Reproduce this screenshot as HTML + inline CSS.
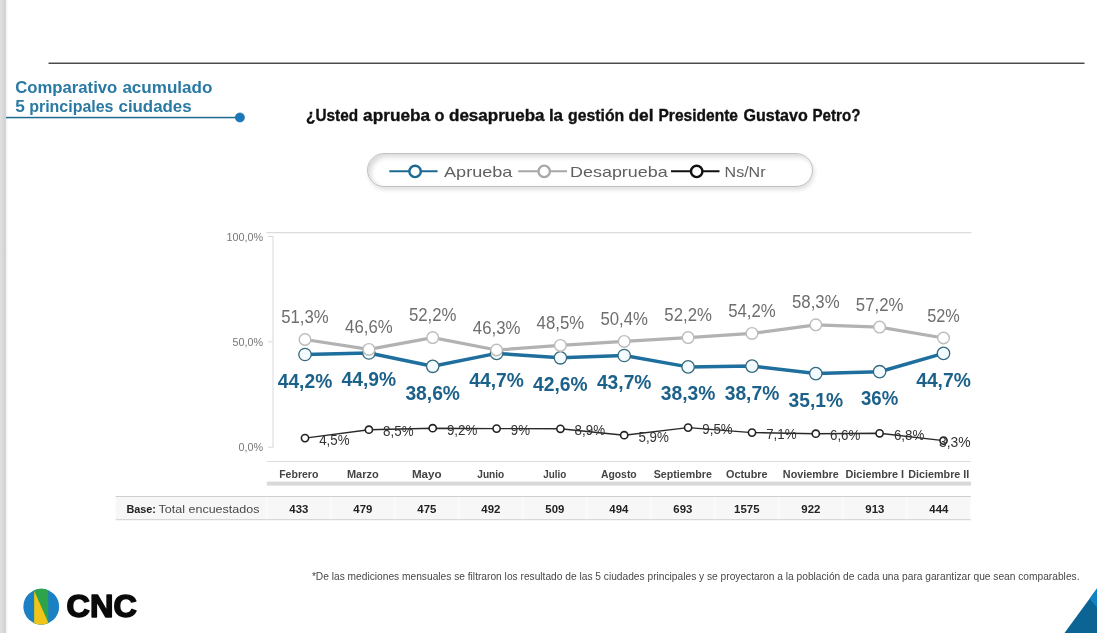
<!DOCTYPE html>
<html lang="es"><head><meta charset="utf-8"><title>Comparativo acumulado 5 principales ciudades</title>
<style>
html,body{margin:0;padding:0;background:#fff;}
body{width:1097px;height:633px;overflow:hidden;position:relative;font-family:"Liberation Sans",sans-serif;}
svg{position:absolute;left:0;top:0;display:block}
text{font-family:"Liberation Sans",sans-serif}
#pill{position:absolute;left:367.4px;top:152.6px;width:446.1px;height:34.3px;box-sizing:border-box;border:1px solid #c2c2c2;border-radius:17.2px;background:#fff;box-shadow:inset 3px 3px 5px rgba(0,0,0,0.15), 1.5px 3px 4px rgba(0,0,0,0.12);}
</style></head><body>
<div id="pill"></div>
<svg width="1097" height="633" viewBox="0 0 1097 633">
<defs>
<linearGradient id="strip" x1="0" x2="1" y1="0" y2="0"><stop offset="0" stop-color="#e1e1e1"/><stop offset="0.6" stop-color="#d6d6d6"/><stop offset="1" stop-color="#cdcdcd"/></linearGradient>
<linearGradient id="strip2" x1="0" x2="1" y1="0" y2="0"><stop offset="0" stop-color="#ececec"/><stop offset="0.5" stop-color="#f7f7f7"/><stop offset="1" stop-color="#ffffff"/></linearGradient>
<clipPath id="logoc"><circle cx="41.25" cy="606.7" r="17.9"/></clipPath>
</defs>
<rect x="0" y="0" width="5.9" height="633" fill="url(#strip)"/>
<rect x="5.9" y="0" width="2.4" height="633" fill="url(#strip2)"/>
<rect x="48.5" y="62.55" width="1036" height="1.4" fill="#404040"/>

<text x="15.2" y="92.9" font-size="16" font-weight="bold" fill="#2a79a3" textLength="102.1" lengthAdjust="spacingAndGlyphs">Comparativo</text>
<text x="122.4" y="92.9" font-size="16" font-weight="bold" fill="#2a79a3" textLength="90.0" lengthAdjust="spacingAndGlyphs">acumulado</text>
<text x="15.2" y="112" font-size="16" font-weight="bold" fill="#2a79a3" textLength="9.6" lengthAdjust="spacingAndGlyphs">5</text>
<text x="29.2" y="112" font-size="16" font-weight="bold" fill="#2a79a3" textLength="84.3" lengthAdjust="spacingAndGlyphs">principales</text>
<text x="118.5" y="112" font-size="16" font-weight="bold" fill="#2a79a3" textLength="73.1" lengthAdjust="spacingAndGlyphs">ciudades</text>
<rect x="6" y="116.8" width="233" height="1.5" fill="#206a90"/>
<circle cx="239.9" cy="117.5" r="4.6" fill="#1a78b9" stroke="#17699f" stroke-width="0.6"/>
<text x="306.1" y="120.8" font-size="16.2" font-weight="bold" fill="#111" stroke="#111" stroke-width="0.35" textLength="52.0" lengthAdjust="spacingAndGlyphs">¿Usted</text>
<text x="363.1" y="120.8" font-size="16.2" font-weight="bold" fill="#111" stroke="#111" stroke-width="0.35" textLength="67.0" lengthAdjust="spacingAndGlyphs">aprueba</text>
<text x="434.6" y="120.8" font-size="16.2" font-weight="bold" fill="#111" stroke="#111" stroke-width="0.35" textLength="9.9" lengthAdjust="spacingAndGlyphs">o</text>
<text x="449.0" y="120.8" font-size="16.2" font-weight="bold" fill="#111" stroke="#111" stroke-width="0.35" textLength="95.6" lengthAdjust="spacingAndGlyphs">desaprueba</text>
<text x="548.9" y="120.8" font-size="16.2" font-weight="bold" fill="#111" stroke="#111" stroke-width="0.35" textLength="14.2" lengthAdjust="spacingAndGlyphs">la</text>
<text x="568.1" y="120.8" font-size="16.2" font-weight="bold" fill="#111" stroke="#111" stroke-width="0.35" textLength="56.1" lengthAdjust="spacingAndGlyphs">gestión</text>
<text x="628.4" y="120.8" font-size="16.2" font-weight="bold" fill="#111" stroke="#111" stroke-width="0.35" textLength="25.1" lengthAdjust="spacingAndGlyphs">del</text>
<text x="658.5" y="120.8" font-size="16.2" font-weight="bold" fill="#111" stroke="#111" stroke-width="0.35" textLength="79.5" lengthAdjust="spacingAndGlyphs">Presidente</text>
<text x="743.5" y="120.8" font-size="16.2" font-weight="bold" fill="#111" stroke="#111" stroke-width="0.35" textLength="64.2" lengthAdjust="spacingAndGlyphs">Gustavo</text>
<text x="812.5" y="120.8" font-size="16.2" font-weight="bold" fill="#111" stroke="#111" stroke-width="0.35" textLength="47.9" lengthAdjust="spacingAndGlyphs">Petro?</text>
<line x1="389.3" x2="437.6" y1="171.3" y2="171.3" stroke="#1c6a94" stroke-width="2.1"/>
<circle cx="415.1" cy="171.4" r="5.7" fill="#fff" stroke="#1c6a94" stroke-width="2.4"/>
<line x1="518.2" x2="567" y1="171.3" y2="171.3" stroke="#a8a8a8" stroke-width="2.0"/>
<circle cx="544.2" cy="171.4" r="5.7" fill="#fff" stroke="#a8a8a8" stroke-width="2.3"/>
<line x1="671" x2="719.5" y1="171.3" y2="171.3" stroke="#111" stroke-width="2.1"/>
<circle cx="696.7" cy="171.4" r="5.7" fill="#fff" stroke="#111" stroke-width="2.4"/>
<text x="444.0" y="176.8" font-size="15" fill="#606060" textLength="68.4" lengthAdjust="spacingAndGlyphs">Aprueba</text>
<text x="570.1" y="176.8" font-size="15" fill="#606060" textLength="97.6" lengthAdjust="spacingAndGlyphs">Desaprueba</text>
<text x="724.6" y="176.8" font-size="15" fill="#606060" textLength="40.9" lengthAdjust="spacingAndGlyphs">Ns/Nr</text>
<rect x="266.4" y="232.2" width="705" height="1" fill="#d4d4d4"/>
<rect x="272.5" y="236.3" width="1" height="211.5" fill="#d9d9d9"/>
<rect x="268" y="236.0" width="5" height="1" fill="#d9d9d9"/>
<rect x="268" y="341.3" width="5" height="1" fill="#d9d9d9"/>
<rect x="268" y="446.7" width="5" height="1" fill="#d9d9d9"/>
<text x="263" y="240.5" font-size="10.4" fill="#777" text-anchor="end" textLength="36.6" lengthAdjust="spacingAndGlyphs">100,0%</text>
<text x="263" y="345.8" font-size="10.4" fill="#777" text-anchor="end" textLength="30.6" lengthAdjust="spacingAndGlyphs">50,0%</text>
<text x="263" y="451.2" font-size="10.4" fill="#777" text-anchor="end" textLength="24.6" lengthAdjust="spacingAndGlyphs">0,0%</text>
<polyline points="305.0,354.5 368.9,353.0 432.7,366.3 496.6,353.4 560.4,357.8 624.2,355.5 688.1,366.9 752.0,366.1 815.8,373.6 879.6,371.7 943.5,353.4" fill="none" stroke="#1f6f9e" stroke-width="3.5" stroke-linejoin="round"/>
<circle cx="305.0" cy="354.5" r="6.2" fill="#f3fbfe" stroke="#35697d" stroke-width="1.3"/>
<circle cx="368.9" cy="353.0" r="6.2" fill="#f3fbfe" stroke="#35697d" stroke-width="1.3"/>
<circle cx="432.7" cy="366.3" r="6.2" fill="#f3fbfe" stroke="#35697d" stroke-width="1.3"/>
<circle cx="496.6" cy="353.4" r="6.2" fill="#f3fbfe" stroke="#35697d" stroke-width="1.3"/>
<circle cx="560.4" cy="357.8" r="6.2" fill="#f3fbfe" stroke="#35697d" stroke-width="1.3"/>
<circle cx="624.2" cy="355.5" r="6.2" fill="#f3fbfe" stroke="#35697d" stroke-width="1.3"/>
<circle cx="688.1" cy="366.9" r="6.2" fill="#f3fbfe" stroke="#35697d" stroke-width="1.3"/>
<circle cx="752.0" cy="366.1" r="6.2" fill="#f3fbfe" stroke="#35697d" stroke-width="1.3"/>
<circle cx="815.8" cy="373.6" r="6.2" fill="#f3fbfe" stroke="#35697d" stroke-width="1.3"/>
<circle cx="879.6" cy="371.7" r="6.2" fill="#f3fbfe" stroke="#35697d" stroke-width="1.3"/>
<circle cx="943.5" cy="353.4" r="6.2" fill="#f3fbfe" stroke="#35697d" stroke-width="1.3"/>
<polyline points="305.0,339.5 368.9,349.4 432.7,337.6 496.6,350.0 560.4,345.4 624.2,341.4 688.1,337.6 752.0,333.4 815.8,324.8 879.6,327.1 943.5,338.0" fill="none" stroke="#b2b2b2" stroke-width="3.2" stroke-linejoin="round"/>
<circle cx="305.0" cy="339.5" r="5.8" fill="#ffffff" stroke="#bcbcbc" stroke-width="1.4"/>
<circle cx="368.9" cy="349.4" r="5.8" fill="#ffffff" stroke="#bcbcbc" stroke-width="1.4"/>
<circle cx="432.7" cy="337.6" r="5.8" fill="#ffffff" stroke="#bcbcbc" stroke-width="1.4"/>
<circle cx="496.6" cy="350.0" r="5.8" fill="#ffffff" stroke="#bcbcbc" stroke-width="1.4"/>
<circle cx="560.4" cy="345.4" r="5.8" fill="#ffffff" stroke="#bcbcbc" stroke-width="1.4"/>
<circle cx="624.2" cy="341.4" r="5.8" fill="#ffffff" stroke="#bcbcbc" stroke-width="1.4"/>
<circle cx="688.1" cy="337.6" r="5.8" fill="#ffffff" stroke="#bcbcbc" stroke-width="1.4"/>
<circle cx="752.0" cy="333.4" r="5.8" fill="#ffffff" stroke="#bcbcbc" stroke-width="1.4"/>
<circle cx="815.8" cy="324.8" r="5.8" fill="#ffffff" stroke="#bcbcbc" stroke-width="1.4"/>
<circle cx="879.6" cy="327.1" r="5.8" fill="#ffffff" stroke="#bcbcbc" stroke-width="1.4"/>
<circle cx="943.5" cy="338.0" r="5.8" fill="#ffffff" stroke="#bcbcbc" stroke-width="1.4"/>
<polyline points="305.0,438.1 368.9,429.7 432.7,428.2 496.6,428.6 560.4,428.8 624.2,435.2 688.1,427.6 752.0,432.6 815.8,433.7 879.6,433.3 943.5,440.6" fill="none" stroke="#2a2a2a" stroke-width="1.4" stroke-linejoin="round"/>
<circle cx="305.0" cy="438.1" r="3.6" fill="#fff" stroke="#222" stroke-width="1.6"/>
<circle cx="368.9" cy="429.7" r="3.6" fill="#fff" stroke="#222" stroke-width="1.6"/>
<circle cx="432.7" cy="428.2" r="3.6" fill="#fff" stroke="#222" stroke-width="1.6"/>
<circle cx="496.6" cy="428.6" r="3.6" fill="#fff" stroke="#222" stroke-width="1.6"/>
<circle cx="560.4" cy="428.8" r="3.6" fill="#fff" stroke="#222" stroke-width="1.6"/>
<circle cx="624.2" cy="435.2" r="3.6" fill="#fff" stroke="#222" stroke-width="1.6"/>
<circle cx="688.1" cy="427.6" r="3.6" fill="#fff" stroke="#222" stroke-width="1.6"/>
<circle cx="752.0" cy="432.6" r="3.6" fill="#fff" stroke="#222" stroke-width="1.6"/>
<circle cx="815.8" cy="433.7" r="3.6" fill="#fff" stroke="#222" stroke-width="1.6"/>
<circle cx="879.6" cy="433.3" r="3.6" fill="#fff" stroke="#222" stroke-width="1.6"/>
<circle cx="943.5" cy="440.6" r="3.6" fill="#fff" stroke="#222" stroke-width="1.6"/>
<text x="305.0" y="323.1" font-size="18.3" fill="#6e6e6e" text-anchor="middle" textLength="47.6" lengthAdjust="spacingAndGlyphs">51,3%</text>
<text x="368.9" y="333.0" font-size="18.3" fill="#6e6e6e" text-anchor="middle" textLength="47.6" lengthAdjust="spacingAndGlyphs">46,6%</text>
<text x="432.7" y="321.2" font-size="18.3" fill="#6e6e6e" text-anchor="middle" textLength="47.6" lengthAdjust="spacingAndGlyphs">52,2%</text>
<text x="496.6" y="333.6" font-size="18.3" fill="#6e6e6e" text-anchor="middle" textLength="47.6" lengthAdjust="spacingAndGlyphs">46,3%</text>
<text x="560.4" y="329.0" font-size="18.3" fill="#6e6e6e" text-anchor="middle" textLength="47.6" lengthAdjust="spacingAndGlyphs">48,5%</text>
<text x="624.2" y="325.0" font-size="18.3" fill="#6e6e6e" text-anchor="middle" textLength="47.6" lengthAdjust="spacingAndGlyphs">50,4%</text>
<text x="688.1" y="321.2" font-size="18.3" fill="#6e6e6e" text-anchor="middle" textLength="47.6" lengthAdjust="spacingAndGlyphs">52,2%</text>
<text x="752.0" y="317.0" font-size="18.3" fill="#6e6e6e" text-anchor="middle" textLength="47.6" lengthAdjust="spacingAndGlyphs">54,2%</text>
<text x="815.8" y="308.4" font-size="18.3" fill="#6e6e6e" text-anchor="middle" textLength="47.6" lengthAdjust="spacingAndGlyphs">58,3%</text>
<text x="879.6" y="310.7" font-size="18.3" fill="#6e6e6e" text-anchor="middle" textLength="47.6" lengthAdjust="spacingAndGlyphs">57,2%</text>
<text x="943.5" y="321.6" font-size="18.3" fill="#6e6e6e" text-anchor="middle" textLength="32.6" lengthAdjust="spacingAndGlyphs">52%</text>
<text x="305.0" y="387.9" font-size="19.5" font-weight="bold" fill="#1c618a" text-anchor="middle" textLength="54.6" lengthAdjust="spacingAndGlyphs">44,2%</text>
<text x="368.9" y="386.4" font-size="19.5" font-weight="bold" fill="#1c618a" text-anchor="middle" textLength="54.6" lengthAdjust="spacingAndGlyphs">44,9%</text>
<text x="432.7" y="399.7" font-size="19.5" font-weight="bold" fill="#1c618a" text-anchor="middle" textLength="54.6" lengthAdjust="spacingAndGlyphs">38,6%</text>
<text x="496.6" y="386.8" font-size="19.5" font-weight="bold" fill="#1c618a" text-anchor="middle" textLength="54.6" lengthAdjust="spacingAndGlyphs">44,7%</text>
<text x="560.4" y="391.2" font-size="19.5" font-weight="bold" fill="#1c618a" text-anchor="middle" textLength="54.6" lengthAdjust="spacingAndGlyphs">42,6%</text>
<text x="624.2" y="388.9" font-size="19.5" font-weight="bold" fill="#1c618a" text-anchor="middle" textLength="54.6" lengthAdjust="spacingAndGlyphs">43,7%</text>
<text x="688.1" y="400.3" font-size="19.5" font-weight="bold" fill="#1c618a" text-anchor="middle" textLength="54.6" lengthAdjust="spacingAndGlyphs">38,3%</text>
<text x="752.0" y="399.5" font-size="19.5" font-weight="bold" fill="#1c618a" text-anchor="middle" textLength="54.6" lengthAdjust="spacingAndGlyphs">38,7%</text>
<text x="815.8" y="407.0" font-size="19.5" font-weight="bold" fill="#1c618a" text-anchor="middle" textLength="54.6" lengthAdjust="spacingAndGlyphs">35,1%</text>
<text x="879.6" y="405.1" font-size="19.5" font-weight="bold" fill="#1c618a" text-anchor="middle" textLength="37.2" lengthAdjust="spacingAndGlyphs">36%</text>
<text x="943.5" y="386.8" font-size="19.5" font-weight="bold" fill="#1c618a" text-anchor="middle" textLength="54.6" lengthAdjust="spacingAndGlyphs">44,7%</text>
<text x="319.2" y="444.7" font-size="14.5" fill="#333" textLength="30.4" lengthAdjust="spacingAndGlyphs">4,5%</text>
<text x="383.1" y="436.3" font-size="14.5" fill="#333" textLength="30.4" lengthAdjust="spacingAndGlyphs">8,5%</text>
<text x="446.9" y="434.8" font-size="14.5" fill="#333" textLength="30.4" lengthAdjust="spacingAndGlyphs">9,2%</text>
<text x="510.8" y="435.2" font-size="14.5" fill="#333" textLength="19.2" lengthAdjust="spacingAndGlyphs">9%</text>
<text x="574.6" y="435.4" font-size="14.5" fill="#333" textLength="30.4" lengthAdjust="spacingAndGlyphs">8,9%</text>
<text x="638.5" y="441.8" font-size="14.5" fill="#333" textLength="30.4" lengthAdjust="spacingAndGlyphs">5,9%</text>
<text x="702.3" y="434.2" font-size="14.5" fill="#333" textLength="30.4" lengthAdjust="spacingAndGlyphs">9,5%</text>
<text x="766.2" y="439.2" font-size="14.5" fill="#333" textLength="30.4" lengthAdjust="spacingAndGlyphs">7,1%</text>
<text x="830.0" y="440.3" font-size="14.5" fill="#333" textLength="30.4" lengthAdjust="spacingAndGlyphs">6,6%</text>
<text x="893.9" y="439.9" font-size="14.5" fill="#333" textLength="30.4" lengthAdjust="spacingAndGlyphs">6,8%</text>
<text x="970.6" y="446.6" font-size="14.5" fill="#333" text-anchor="end" textLength="31.6" lengthAdjust="spacingAndGlyphs">3,3%</text>
<rect x="266.8" y="461" width="704" height="1" fill="#dcdcdc"/>
<rect x="266.8" y="481.6" width="704.2" height="4" fill="#d9d9d9"/>
<text x="298.8" y="478.1" font-size="10.6" font-weight="bold" fill="#444" text-anchor="middle" textLength="39.2" lengthAdjust="spacingAndGlyphs">Febrero</text>
<text x="362.8" y="478.1" font-size="10.6" font-weight="bold" fill="#444" text-anchor="middle" textLength="31.8" lengthAdjust="spacingAndGlyphs">Marzo</text>
<text x="426.8" y="478.1" font-size="10.6" font-weight="bold" fill="#444" text-anchor="middle" textLength="29.8" lengthAdjust="spacingAndGlyphs">Mayo</text>
<text x="490.8" y="478.1" font-size="10.6" font-weight="bold" fill="#444" text-anchor="middle" textLength="27.0" lengthAdjust="spacingAndGlyphs">Junio</text>
<text x="554.8" y="478.1" font-size="10.6" font-weight="bold" fill="#444" text-anchor="middle" textLength="23.1" lengthAdjust="spacingAndGlyphs">Julio</text>
<text x="618.8" y="478.1" font-size="10.6" font-weight="bold" fill="#444" text-anchor="middle" textLength="35.8" lengthAdjust="spacingAndGlyphs">Agosto</text>
<text x="682.8" y="478.1" font-size="10.6" font-weight="bold" fill="#444" text-anchor="middle" textLength="58.2" lengthAdjust="spacingAndGlyphs">Septiembre</text>
<text x="746.8" y="478.1" font-size="10.6" font-weight="bold" fill="#444" text-anchor="middle" textLength="41.7" lengthAdjust="spacingAndGlyphs">Octubre</text>
<text x="810.8" y="478.1" font-size="10.6" font-weight="bold" fill="#444" text-anchor="middle" textLength="55.9" lengthAdjust="spacingAndGlyphs">Noviembre</text>
<text x="874.8" y="478.1" font-size="10.6" font-weight="bold" fill="#444" text-anchor="middle" textLength="58.7" lengthAdjust="spacingAndGlyphs">Diciembre I</text>
<text x="938.8" y="478.1" font-size="10.6" font-weight="bold" fill="#444" text-anchor="middle" textLength="60.9" lengthAdjust="spacingAndGlyphs">Diciembre II</text>
<rect x="115.6" y="496.5" width="855.2" height="23.2" fill="#f7f7f7"/>
<rect x="115.6" y="496" width="855.2" height="1" fill="#cfcfcf"/>
<rect x="115.6" y="519.2" width="855.2" height="1" fill="#cfcfcf"/>
<rect x="266.3" y="497" width="1" height="22.2" fill="#ffffff"/>
<rect x="330.3" y="497" width="1" height="22.2" fill="#ffffff"/>
<rect x="394.3" y="497" width="1" height="22.2" fill="#ffffff"/>
<rect x="458.3" y="497" width="1" height="22.2" fill="#ffffff"/>
<rect x="522.3" y="497" width="1" height="22.2" fill="#ffffff"/>
<rect x="586.3" y="497" width="1" height="22.2" fill="#ffffff"/>
<rect x="650.3" y="497" width="1" height="22.2" fill="#ffffff"/>
<rect x="714.3" y="497" width="1" height="22.2" fill="#ffffff"/>
<rect x="778.3" y="497" width="1" height="22.2" fill="#ffffff"/>
<rect x="842.3" y="497" width="1" height="22.2" fill="#ffffff"/>
<rect x="906.3" y="497" width="1" height="22.2" fill="#ffffff"/>
<rect x="970.3" y="497" width="1" height="22.2" fill="#ffffff"/>
<text x="126.4" y="512.8" font-size="11" font-weight="bold" fill="#222" textLength="29.6" lengthAdjust="spacingAndGlyphs">Base:</text>
<text x="158.6" y="512.8" font-size="11" fill="#4a4a4a" textLength="100.8" lengthAdjust="spacingAndGlyphs">Total encuestados</text>
<text x="298.8" y="512.8" font-size="10.8" font-weight="bold" fill="#222" text-anchor="middle" textLength="19.0" lengthAdjust="spacingAndGlyphs">433</text>
<text x="362.8" y="512.8" font-size="10.8" font-weight="bold" fill="#222" text-anchor="middle" textLength="19.0" lengthAdjust="spacingAndGlyphs">479</text>
<text x="426.8" y="512.8" font-size="10.8" font-weight="bold" fill="#222" text-anchor="middle" textLength="19.0" lengthAdjust="spacingAndGlyphs">475</text>
<text x="490.8" y="512.8" font-size="10.8" font-weight="bold" fill="#222" text-anchor="middle" textLength="19.0" lengthAdjust="spacingAndGlyphs">492</text>
<text x="554.8" y="512.8" font-size="10.8" font-weight="bold" fill="#222" text-anchor="middle" textLength="19.0" lengthAdjust="spacingAndGlyphs">509</text>
<text x="618.8" y="512.8" font-size="10.8" font-weight="bold" fill="#222" text-anchor="middle" textLength="19.0" lengthAdjust="spacingAndGlyphs">494</text>
<text x="682.8" y="512.8" font-size="10.8" font-weight="bold" fill="#222" text-anchor="middle" textLength="19.0" lengthAdjust="spacingAndGlyphs">693</text>
<text x="746.8" y="512.8" font-size="10.8" font-weight="bold" fill="#222" text-anchor="middle" textLength="25.4" lengthAdjust="spacingAndGlyphs">1575</text>
<text x="810.8" y="512.8" font-size="10.8" font-weight="bold" fill="#222" text-anchor="middle" textLength="19.0" lengthAdjust="spacingAndGlyphs">922</text>
<text x="874.8" y="512.8" font-size="10.8" font-weight="bold" fill="#222" text-anchor="middle" textLength="19.0" lengthAdjust="spacingAndGlyphs">913</text>
<text x="938.8" y="512.8" font-size="10.8" font-weight="bold" fill="#222" text-anchor="middle" textLength="19.0" lengthAdjust="spacingAndGlyphs">444</text>
<text x="311.9" y="579.7" font-size="10" fill="#484848" textLength="767.6" lengthAdjust="spacingAndGlyphs">*De las mediciones mensuales se filtraron los resultado de las 5 ciudades principales y se proyectaron a la población de cada una para garantizar que sean comparables.</text>
<g clip-path="url(#logoc)"><rect x="20" y="585" width="45" height="45" fill="#1b80c4"/><rect x="34.2" y="585" width="14.1" height="45" fill="#2da44a"/><polygon points="34.2,590.8 48.3,622.7 48.3,630 34.2,630" fill="#f0c419"/></g>
<text x="66.6" y="617.3" font-size="30.5" font-weight="bold" fill="#0a0a0a" stroke="#0a0a0a" stroke-width="1.5" stroke-linejoin="round" textLength="70.4" lengthAdjust="spacingAndGlyphs">CNC</text>
<polygon points="1064.5,633 1097,588.6 1097,633" fill="#0b6494"/>
<polygon points="1097,588.6 1089.6,598.8 1097,607.5" fill="#1283c6"/>
</svg></body></html>
